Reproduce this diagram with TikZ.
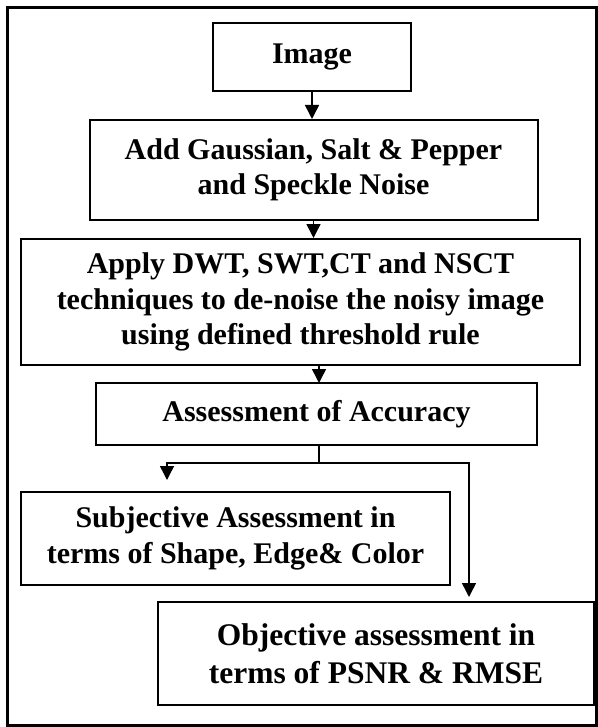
\documentclass[tikz,border=0pt]{standalone}
\usepackage{fontspec}
\setmainfont{Liberation Serif}
\usetikzlibrary{arrows.meta}

\tikzset{
    box/.style = {draw, line width=2pt, align=center, inner sep=0pt,
                  font=\bfseries\fontsize{30}{35.5}\selectfont},
    link/.style = {line width=1.5pt},
    arr/.style = {link, -{Triangle[width=14pt,length=14pt]}}
}

\begin{document}
\begin{tikzpicture}[x=1pt, y=-1pt]
    \useasboundingbox (0,0) rectangle (597,727);
    \draw [line width=3pt] (7,8) rectangle (596,725);

    \node [box, minimum width=198pt, minimum height=68pt] (img) at (312,57) {Image};
    \node [box, minimum width=448pt, minimum height=100pt] (noise) at (313.5,170)
        {Add Gaussian, Salt \& Pepper\\and Speckle Noise};
    \node [box, minimum width=559pt, minimum height=126pt] (dwt) at (300.5,302)
        {Apply DWT, SWT,CT and NSCT\\techniques to de-noise the noisy image\\using defined threshold rule};
    \node [box, minimum width=441pt, minimum height=62pt] (acc) at (316.5,414)
        {Assessment of Accuracy};
    \node [box, minimum width=429pt, minimum height=93pt] (subj) at (235.5,538.5)
        {Subjective Assessment in\\terms of Shape, Edge\& Color};
    \node [box, minimum width=436pt, minimum height=103pt,
           font=\bfseries\fontsize{31.5}{38}\selectfont] (obj) at (376,653.5)
        {Objective assessment in\\terms of PSNR \& RMSE};

    \draw [arr] (img.south) -- (img.south |- noise.north);
    \draw [arr] (noise.south) -- (noise.south |- dwt.north);
    \draw [arr] (dwt.south -| 319,0) -- (319,383);

    \coordinate (split) at (319,463);
    \coordinate (lft) at (167,463);
    \coordinate (rgt) at (469,463);
    \draw [link] (319,445) -- (split);
    \draw [arr, shorten >=11pt] (split) -- (lft) -- (lft |- subj.north);
    \draw [arr, shorten >=4pt] (split) -- (rgt) -- (rgt |- obj.north);
\end{tikzpicture}
\end{document}
